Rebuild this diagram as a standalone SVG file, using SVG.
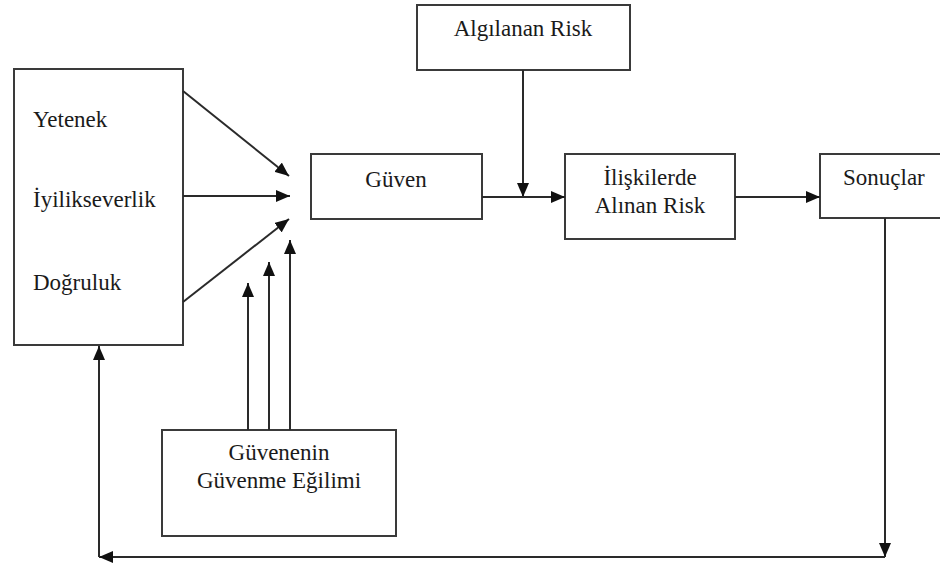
<svg xmlns="http://www.w3.org/2000/svg" width="940" height="567" viewBox="0 0 940 567">
<defs>
<style>
.box{fill:#fff;stroke:#3a3a3a;stroke-width:2}
.t{font-family:'Liberation Serif','Times New Roman','DejaVu Serif',serif;font-size:23px;fill:#1a1a1a}
.c{text-anchor:middle}
.ln{fill:none;stroke:#2a2a2a;stroke-width:2}
</style>
<marker id="ah" viewBox="0 0 14 12" refX="14" refY="6" markerWidth="14" markerHeight="12" markerUnits="userSpaceOnUse" orient="auto">
<path d="M0,0 L14,6 L0,12 Z" fill="#111"/>
</marker>
</defs>
<rect width="940" height="567" fill="#fff"/>
<g id="factors">
<rect class="box" x="14" y="69" width="169" height="276"/>
<text class="t" x="33" y="127">Yetenek</text>
<text class="t" x="33" y="207">İyilikseverlik</text>
<text class="t" x="33" y="290">Doğruluk</text>
</g>
<g id="algilanan-risk">
<rect class="box" x="417" y="5" width="213" height="65"/>
<text class="t c" x="523" y="36">Algılanan Risk</text>
</g>
<g id="guven">
<rect class="box" x="311" y="154" width="171" height="65"/>
<text class="t c" x="396" y="187">Güven</text>
</g>
<g id="iliskilerde">
<rect class="box" x="565" y="154" width="170" height="85"/>
<text class="t c" x="650" y="185">İlişkilerde</text>
<text class="t c" x="650" y="213">Alınan Risk</text>
</g>
<g id="sonuclar">
<rect class="box" x="820" y="154" width="130" height="64"/>
<text class="t" x="843" y="185">Sonuçlar</text>
</g>
<g id="egilim">
<rect class="box" x="162" y="430" width="234" height="106"/>
<text class="t c" x="279" y="460">Güvenenin</text>
<text class="t c" x="279" y="488">Güvenme Eğilimi</text>
</g>
<g id="connectors">
<line class="ln" x1="183" y1="91" x2="289" y2="176" marker-end="url(#ah)"/>
<line class="ln" x1="183" y1="196" x2="290" y2="196" marker-end="url(#ah)"/>
<line class="ln" x1="183" y1="302" x2="289" y2="219" marker-end="url(#ah)"/>
<line class="ln" x1="248" y1="430" x2="248" y2="283" marker-end="url(#ah)"/>
<line class="ln" x1="269" y1="430" x2="269" y2="262" marker-end="url(#ah)"/>
<line class="ln" x1="290" y1="430" x2="290" y2="240" marker-end="url(#ah)"/>
<line class="ln" x1="523" y1="70" x2="523" y2="197" marker-end="url(#ah)"/>
<line class="ln" x1="482" y1="197" x2="565" y2="197" marker-end="url(#ah)"/>
<line class="ln" x1="735" y1="197" x2="820" y2="197" marker-end="url(#ah)"/>
<line class="ln" x1="885" y1="218" x2="885" y2="557" marker-end="url(#ah)"/>
<line class="ln" x1="885" y1="557" x2="99" y2="557" marker-end="url(#ah)"/>
<line class="ln" x1="99" y1="557" x2="99" y2="346" marker-end="url(#ah)"/>
</g>
</svg>
